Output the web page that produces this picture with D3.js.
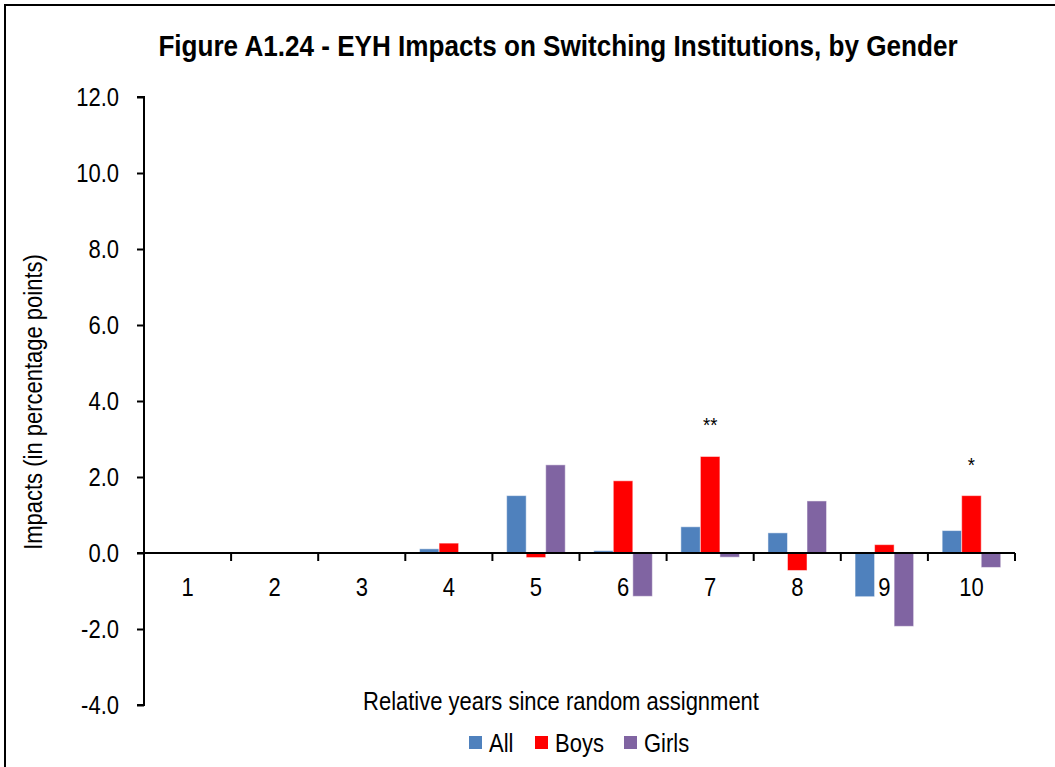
<!DOCTYPE html>
<html>
<head>
<meta charset="utf-8">
<script src="https://cdn.jsdelivr.net/npm/d3@7"></script>
<style>
  body { margin: 0; background: #fff; }
  svg { display: block; font-family: "Liberation Sans", Arial, sans-serif; }
</style>
</head>
<body>
<svg id="chart" width="1055" height="767"></svg>
<script>
// chart values
var years = ["1", "2", "3", "4", "5", "6", "7", "8", "9", "10"];
var seriesNames = ["All", "Boys", "Girls"];
var allVals   = [null, null, null, 0.11, 1.51, 0.06, 0.69, 0.53, -1.15, 0.59];
var boysVals  = [null, null, null, 0.26, -0.12, 1.90, 2.54, -0.46, 0.22, 1.51];
var girlsVals = [null, null, null, 0.00, 2.32, -1.14, -0.11, 1.37, -1.93, -0.38];
var stars     = ["", "", "", "", "", "", "**", "", "", "*"];   // marks over the Boys bar
var yTicks = [-4, -2, 0, 2, 4, 6, 8, 10, 12];

var colors = ["#4F81BD", "#FF0000", "#8064A2"];
var narrow = 0.88;   // fake Arial Narrow by squeezing Liberation Sans

var svg = d3.select("#chart");

// text helper: squeezed horizontally around its anchor point
function label(parent, x, y, str, size, anchor, weight, sq){
  return parent.append("text")
    .attr("transform", "translate(" + x + "," + y + ") scale(" + (sq || narrow) + ",1)")
    .attr("text-anchor", anchor || "middle")
    .style("font-size", size + "px")
    .style("font-weight", weight || "normal")
    .attr("fill", "#000")
    .text(str);
}

// frame around the chart
svg.append("rect")
  .attr("x", 5).attr("y", 5)
  .attr("width", 1070).attr("height", 790)
  .attr("fill", "none").attr("stroke", "#000").attr("stroke-width", 2);

var plotLeft = 144, plotRight = 1015, plotTop = 97, plotBottom = 705;

var y = d3.scaleLinear().domain([-4, 12]).range([plotBottom, plotTop]);
var x = d3.scaleBand().domain(years).range([plotLeft, plotRight]).paddingInner(0).paddingOuter(0);
var inner = d3.scaleBand().domain(seriesNames).range([0, x.bandwidth()]).paddingInner(0).paddingOuter(0.73);

// title
label(svg, 558, 56, "Figure A1.24 - EYH Impacts on Switching Institutions, by Gender", 29, "middle", "bold", 0.9);

// y axis
var yAxis = d3.axisLeft(y).tickValues(yTicks).tickSize(7).tickFormat("");
var gy = svg.append("g").attr("transform", "translate(" + plotLeft + ",0)").call(yAxis);
gy.select(".domain").attr("stroke", "#000").attr("stroke-width", 2)
  .attr("d", "M-7," + plotTop + "H0V" + plotBottom + "H-7");
gy.selectAll(".tick line").attr("stroke", "#000").attr("stroke-width", 2);
yTicks.forEach(function(d){
  label(gy, -25, y(d) + 9, d.toFixed(1), 25, "end");
});

// bars
var series = [allVals, boysVals, girlsVals];
series.forEach(function(vals, si){
  var g = svg.append("g");
  g.selectAll("rect")
    .data(vals.map(function(v, i){ return { year: years[i], v: v }; }).filter(function(d){ return d.v !== null; }))
    .enter().append("rect")
    .attr("x", function(d){ return x(d.year) + inner(seriesNames[si]); })
    .attr("width", inner.bandwidth())
    .attr("y", function(d){ return y(Math.max(0, d.v)); })
    .attr("height", function(d){ return Math.abs(y(d.v) - y(0)); })
    .attr("fill", colors[si])
    .attr("stroke", "#fff").attr("stroke-opacity", 0.5).attr("stroke-width", 1);
});

// x axis along zero
var zeroY = y(0);
var gx = svg.append("g");
gx.append("line")
  .attr("x1", plotLeft - 7).attr("x2", plotRight)
  .attr("y1", zeroY).attr("y2", zeroY)
  .attr("stroke", "#000").attr("stroke-width", 2);
gx.selectAll("line.tk")
  .data(years.slice(1).concat(["end"]))
  .enter().append("line")
  .attr("class", "tk")
  .attr("x1", function(d){ return d === "end" ? plotRight : x(d); })
  .attr("x2", function(d){ return d === "end" ? plotRight : x(d); })
  .attr("y1", zeroY).attr("y2", zeroY + 8)
  .attr("stroke", "#000").attr("stroke-width", 2);
years.forEach(function(d){
  label(gx, x(d) + x.bandwidth() / 2, zeroY + 43, d, 25);
});

// significance stars
stars.forEach(function(s, i){
  if (!s) return;
  label(svg, x(years[i]) + inner("Boys") + inner.bandwidth() / 2, y(boysVals[i]) - 24, s, 21);
});

// axis titles
svg.append("text")
  .attr("transform", "translate(42,402) rotate(-90) scale(" + narrow + ",1)")
  .attr("text-anchor", "middle")
  .style("font-size", "25px")
  .text("Impacts (in percentage points)");

label(svg, 561, 710, "Relative years since random assignment", 25);

// legend
var legendX = [469, 535, 624];
var lg = svg.append("g");
seriesNames.forEach(function(name, i){
  lg.append("rect")
    .attr("x", legendX[i]).attr("y", 736)
    .attr("width", 13).attr("height", 13)
    .attr("fill", colors[i]);
  label(lg, legendX[i] + 20, 752, name, 25, "start");
});
</script>
</body>
</html>
